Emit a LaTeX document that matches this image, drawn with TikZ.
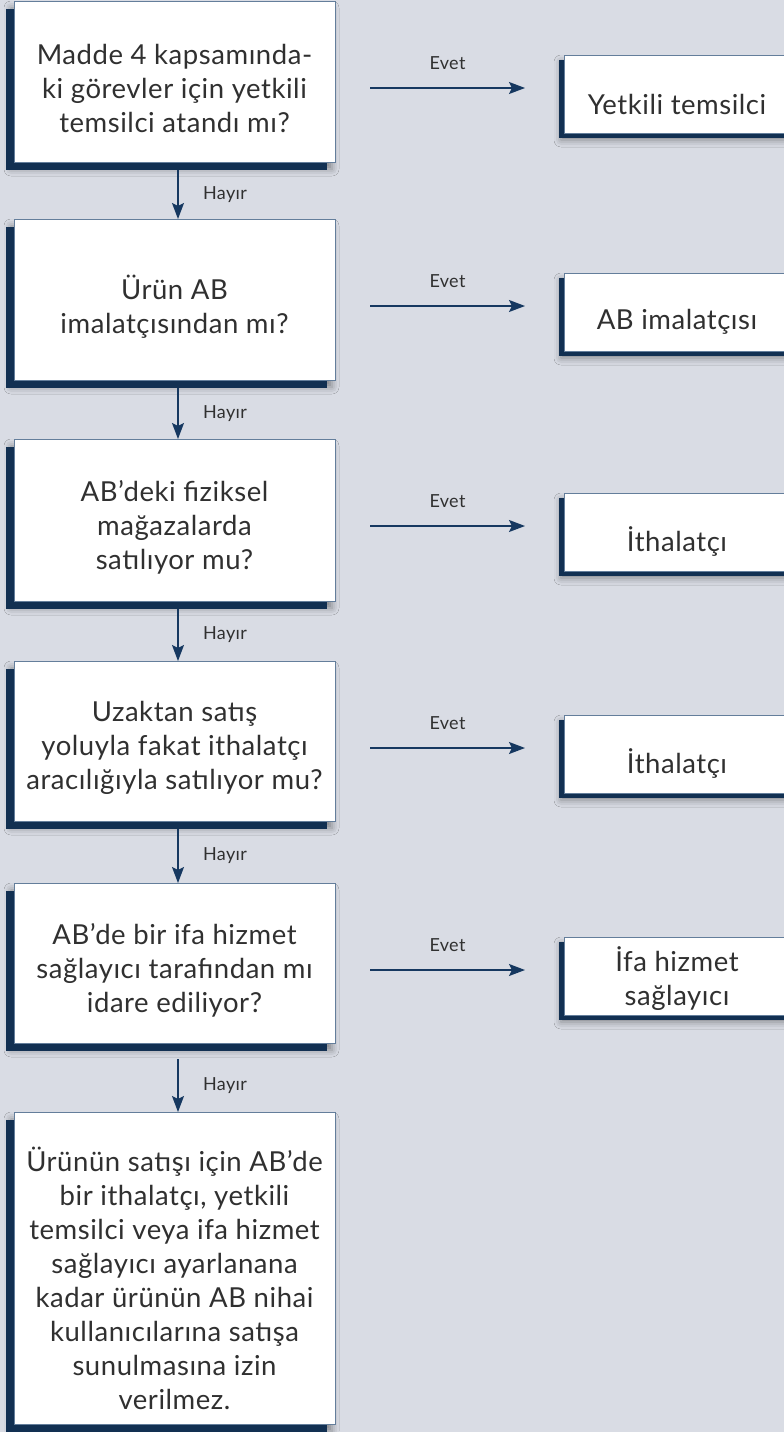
\documentclass[tikz,border=0pt]{standalone}
\usepackage{fontspec}
\setmainfont{Lato}[LetterSpace=2]
\usetikzlibrary{shadows, shadows.blur, calc, arrows.meta}

\definecolor{bgcol}{RGB}{217,220,228}
\definecolor{navy}{RGB}{18,48,82}
\definecolor{edgecol}{RGB}{100,126,155}
\definecolor{arrowcol}{RGB}{22,56,96}
\definecolor{txtcol}{RGB}{48,48,48}

\tikzset{
  softshadow/.style={blur shadow={shadow xshift=-3pt, shadow yshift=-7pt,
      shadow blur radius=7pt, shadow opacity=40}},
  qbox/.style={rectangle, fill=white, draw=edgecol, line width=0.8pt,
      inner sep=0pt, outer sep=0pt, minimum width=321pt,
      softshadow,
      general shadow={fill=navy, draw=none, shadow xshift=-8pt, shadow yshift=-8pt}},
  abox/.style={rectangle, fill=white, draw=edgecol, line width=0.8pt,
      inner sep=0pt, outer sep=0pt, minimum width=226pt, minimum height=78pt,
      softshadow,
      general shadow={fill=navy, draw=none, shadow xshift=-5pt, shadow yshift=-5pt}},
  qtext/.style={text=txtcol, align=center, inner sep=0pt,
      font=\fontsize{27.5}{34}\selectfont},
  lbl/.style={text=txtcol, inner sep=0pt, font=\fontsize{18}{21}\selectfont},
  flow/.style={draw=arrowcol, line width=1.4pt,
      -{Stealth[length=16pt, width=12pt, inset=3pt]}},
}

\begin{document}
\begin{tikzpicture}[x=1pt, y=-1pt]
  % canvas
  \fill[bgcol] (0,0) rectangle (784,1432);
  \useasboundingbox (0,0) rectangle (784,1432);

  % question boxes (left column)
  \node[qbox, minimum height=161pt] (q1) at (174.5, 81.5) {};
  \node[qbox, minimum height=161pt] (q2) at (174.5, 299.5) {};
  \node[qbox, minimum height=162pt] (q3) at (174.5, 520) {};
  \node[qbox, minimum height=160pt] (q4) at (174.5, 741) {};
  \node[qbox, minimum height=160pt] (q5) at (174.5, 963) {};
  \node[qbox, minimum height=312pt] (q6) at (174.5, 1268) {};

  \node[qtext] (t1) at ([yshift=-7pt]q1.center)
    {Madde 4 kapsamında-\\ki görevler için yetkili\\temsilci atandı mı?};
  \node[qtext] (t2) at ([yshift=-7pt]q2.center)
    {Ürün AB\\imalatçısından mı?};
  \node[qtext] (t3) at ([yshift=-7pt]q3.center)
    {AB’deki fiziksel\\mağazalarda\\satılıyor mu?};
  \node[qtext] (t4) at ([yshift=-7pt]q4.center)
    {Uzaktan satış\\yoluyla fakat ithalatçı\\aracılığıyla satılıyor mu?};
  \node[qtext] (t5) at ([yshift=-7pt]q5.center)
    {AB’de bir ifa hizmet\\sağlayıcı tarafından mı\\idare ediliyor?};
  \node[qtext] (t6) at ([yshift=-10pt]q6.center)
    {Ürünün satışı için AB’de\\bir ithalatçı, yetkili\\temsilci veya ifa hizmet\\sağlayıcı ayarlanana\\kadar ürünün AB nihai\\kullanıcılarına satışa\\sunulmasına izin\\verilmez.};

  % answer boxes (right column)
  \node[abox] (a1) at (677, 94) {};
  \node[abox] (a2) at (677, 312) {};
  \node[abox] (a3) at (677, 532) {};
  \node[abox] (a4) at (677, 754) {};
  \node[abox] (a5) at (677, 976) {};

  \node[qtext] (r1) at ([yshift=-10pt]a1.center) {Yetkili temsilci};
  \node[qtext] (r2) at ([yshift=-10pt]a2.center) {AB imalatçısı};
  \node[qtext] (r3) at ([yshift=-10pt]a3.center) {İthalatçı};
  \node[qtext] (r4) at ([yshift=-10pt]a4.center) {İthalatçı};
  \node[qtext] (r5) at ([yshift=-3pt]a5.center) {İfa hizmet\\sağlayıcı};

  % "Hayır" connectors
  \draw[flow] ([xshift=3.5pt, yshift=-8pt]q1.south) -- ([xshift=3.5pt]q2.north)
    node[midway, lbl, xshift=47pt] (h1) {Hayır};
  \draw[flow] ([xshift=3.5pt, yshift=-8pt]q2.south) -- ([xshift=3.5pt]q3.north)
    node[midway, lbl, xshift=47pt] (h2) {Hayır};
  \draw[flow] ([xshift=3.5pt, yshift=-8pt]q3.south) -- ([xshift=3.5pt]q4.north)
    node[midway, lbl, xshift=47pt] (h3) {Hayır};
  \draw[flow] ([xshift=3.5pt, yshift=-8pt]q4.south) -- ([xshift=3.5pt]q5.north)
    node[midway, lbl, xshift=47pt] (h4) {Hayır};
  \draw[flow] ([xshift=3.5pt, yshift=-16pt]q5.south) -- ([xshift=3.5pt]q6.north)
    node[midway, lbl, xshift=47pt] (h5) {Hayır};

  % "Evet" connectors
  \foreach \i in {1,...,5}{
    \draw[flow] ($(q\i.east |- a\i.west)+(35pt,6pt)$) -- ($(a\i.west)+(-39pt,6pt)$)
      node[midway, lbl, yshift=25pt] (e\i) {Evet};
  }
\end{tikzpicture}
\end{document}
